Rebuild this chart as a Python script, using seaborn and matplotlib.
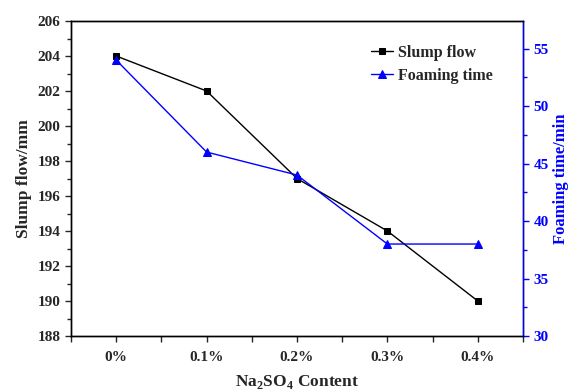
import matplotlib
matplotlib.use("Agg")
import matplotlib.pyplot as plt
from matplotlib.ticker import MultipleLocator, FixedLocator
import seaborn as sns
import pandas as pd

categories = ["0%", "0.1%", "0.2%", "0.3%", "0.4%"]
slump_flow = [204, 202, 197, 194, 190]
foaming_time = [54, 46, 44, 38, 38]

sns.set_theme(style="ticks")
plt.rcParams["font.family"] = ["Liberation Serif", "DejaVu Serif"]
plt.rcParams["font.weight"] = "bold"
plt.rcParams["mathtext.fontset"] = "custom"
plt.rcParams["mathtext.rm"] = "Liberation Serif:bold"
plt.rcParams["mathtext.bf"] = "Liberation Serif:bold"

df = pd.DataFrame({"pos": range(len(categories)), "slump": slump_flow, "foam": foaming_time})

fig = plt.figure(figsize=(5.71, 3.9), dpi=100)
ax = fig.add_axes([71 / 571, 1 - 336 / 390, (523 - 71) / 571, (336 - 21) / 390])
ax2 = ax.twinx()

sns.lineplot(data=df, x="pos", y="slump", ax=ax, color="black", marker="s",
             markersize=5, markeredgecolor="black", linewidth=1, label="Slump flow", legend=False)
sns.lineplot(data=df, x="pos", y="foam", ax=ax2, color="blue", marker="^",
             markersize=6, markeredgecolor="blue", linewidth=1, label="Foaming time", legend=False)

ax.set_xlim(-0.5, 4.5)
ax.set_ylim(188, 206)
ax2.set_ylim(30, 57.4)

ax.set_xticks(range(len(categories)))
ax.set_xticklabels(categories)
ax.xaxis.set_minor_locator(FixedLocator([-0.5 + i for i in range(6)]))
ax.yaxis.set_major_locator(MultipleLocator(2))
ax.yaxis.set_minor_locator(MultipleLocator(1))
ax2.yaxis.set_major_locator(MultipleLocator(5))
ax2.yaxis.set_minor_locator(MultipleLocator(2.5))

for a in (ax, ax2):
    for s in a.spines.values():
        s.set_linewidth(1.0)
        s.set_color("black")
    a.tick_params(which="major", direction="out", length=4, width=1, labelsize=11)
    a.tick_params(which="minor", direction="out", length=3, width=1)
    a.grid(False)

ax2.spines["right"].set_color("blue")
ax2.tick_params(axis="y", which="both", colors="blue", labelcolor="blue")
ax.tick_params(axis="x", which="both", length=4.5, pad=6)

for lab in ax.get_xticklabels() + ax.get_yticklabels() + ax2.get_yticklabels():
    lab.set_fontweight("bold")

ax.set_xlabel(r"Na$_2$SO$_4$ Content", fontsize=12.5, fontweight="bold", labelpad=7)
ax.set_ylabel("Slump flow/mm", fontsize=12.5, fontweight="bold", labelpad=4)
ax2.set_ylabel("Foaming time/min", fontsize=12, fontweight="bold", color="blue", labelpad=3)

h1, l1 = ax.get_legend_handles_labels()
h2, l2 = ax2.get_legend_handles_labels()
ax.legend(h1 + h2, l1 + l2, loc="upper right", bbox_to_anchor=(0.965, 0.97), frameon=False,
          prop={"weight": "bold", "size": 11.5}, handlelength=1.4, handletextpad=0.3,
          labelspacing=0.45)

fig.savefig("out.png", dpi=100)
